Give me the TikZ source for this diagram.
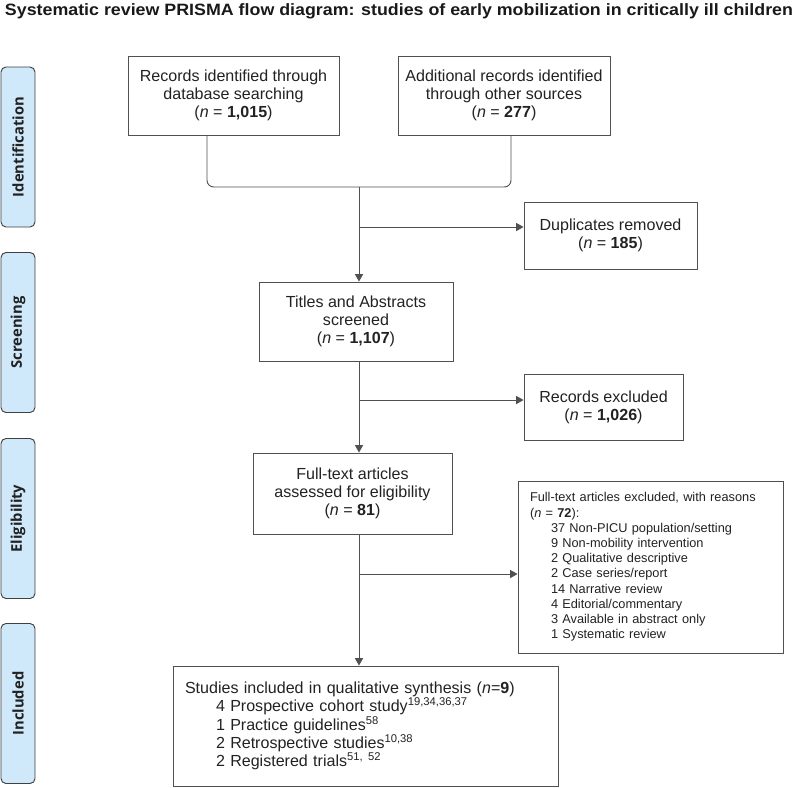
\documentclass[tikz,border=0pt]{standalone}
\usepackage{fontspec}
\setmainfont{Liberation Sans}
\newfontfamily\sidefont{Open Sans}
\usepackage{graphicx}
\usepackage{xcolor}
\usetikzlibrary{arrows.meta, positioning}
\definecolor{txtgray}{HTML}{222222}
\definecolor{linegray}{HTML}{505050}
\definecolor{stagefill}{HTML}{CFE8FA}

\begin{document}
\begin{tikzpicture}[
    x=0.3mm, y=-0.3mm,
    box/.style={draw=linegray, line width=0.8pt, align=center, text=txtgray, inner sep=0pt, font=\fontsize{13.7}{15.5}\selectfont},
    listbox/.style={draw=linegray, line width=0.8pt, align=left, text=txtgray, inner xsep=3.6mm, inner ysep=0pt},
    stage/.style={draw=black!75, line width=0.8pt, fill=stagefill, rounded corners=1.5mm, rotate=90, minimum width=48mm, minimum height=10.2mm, font=\sidefont\bfseries\fontsize{12.6}{14}\selectfont, text=txtgray},
    arrow/.style={-{Triangle[length=2.2mm, width=2.4mm]}, draw=linegray, line width=0.8pt},
    link/.style={draw=linegray, line width=0.8pt},
]
\useasboundingbox (0,0) rectangle (800,787);

% Title
\node[font=\bfseries\fontsize{14}{17}\selectfont, text=black!90] (title) at (399,11.5)
    {\resizebox{236.4mm}{\height}{Systematic review PRISMA flow diagram: studies of early mobilization in critically ill children}};

% Stages
\node[stage] (ident) at (18,147) {Identification};
\node[stage] (scr) at (18,332.5) {Screening};
\node[stage] (elig) at (18,518.5) {Eligibility};
\node[stage] (incd) at (18,703.5) {Included};

% Flow boxes
\node[box, minimum width=63.3mm, minimum height=23.7mm] (db) at (233.5,95.5)
    {Records identified through\\database searching\\(\textit{n} = \textbf{1,015})};
\node[box, minimum width=63.6mm, minimum height=23.7mm] (other) at (504,95.5)
    {Additional records identified\\through other sources\\(\textit{n} = \textbf{277})};
\node[box, minimum width=51.9mm, minimum height=20.1mm] (dup) at (610.5,235.5)
    {Duplicates removed\\(\textit{n} = \textbf{185})};
\node[box, minimum width=58.2mm, minimum height=23.7mm] (screen) at (356,321.5)
    {Titles and Abstracts\\screened\\(\textit{n} = \textbf{1,107})};
\node[box, minimum width=47.7mm, minimum height=19.8mm] (recex) at (603.5,407)
    {Records excluded\\(\textit{n} = \textbf{1,026})};
\node[box, minimum width=59.7mm, minimum height=24.3mm] (full) at (352.5,493.5)
    {Full-text articles\\assessed for eligibility\\(\textit{n} = \textbf{81})};
\node[listbox, text width=72.3mm, minimum height=51.6mm, font=\fontsize{10.9}{13}\selectfont] (ftex) at (650.5,567)
    {Full-text articles excluded, with reasons\\
     (\textit{n} = \textbf{72}):\\
     \hspace*{6.3mm}37 Non-PICU population/setting\\
     \hspace*{6.3mm}9 Non-mobility intervention\\
     \hspace*{6.3mm}2 Qualitative descriptive\\
     \hspace*{6.3mm}2 Case series/report\\
     \hspace*{6.3mm}14 Narrative review\\
     \hspace*{6.3mm}4 Editorial/commentary\\
     \hspace*{6.3mm}3 Available in abstract only\\
     \hspace*{6.3mm}1 Systematic review};
\node[listbox, text width=108.3mm, minimum height=36mm, font=\fontsize{13.7}{15.6}\selectfont] (incl) at (365.5,726)
    {Studies included in qualitative synthesis (\textit{n}=\textbf{9})\\
     \hspace*{9.3mm}4 Prospective cohort study\textsuperscript{19,34,36,37}\\
     \hspace*{9.3mm}1 Practice guidelines\textsuperscript{58}\\
     \hspace*{9.3mm}2 Retrospective studies\textsuperscript{10,38}\\
     \hspace*{9.3mm}2 Registered trials\textsuperscript{51, 52}};

% Connectors
\coordinate (jn) at (359,187);
\coordinate (b1) at ([yshift=2.55mm]dup.west);
\coordinate (b2) at ([yshift=2.1mm]recex.west);
\coordinate (b3) at ([yshift=-2.1mm]ftex.west);
\draw[link, rounded corners=2mm] ([xshift=-7.95mm]db.south) |- (jn) -| ([xshift=2.1mm]other.south);
\draw[arrow] (jn) -- (jn |- screen.north);
\draw[arrow] (jn |- b1) -- (b1);
\draw[arrow] (jn |- screen.south) -- (jn |- full.north);
\draw[arrow] (jn |- b2) -- (b2);
\draw[arrow] (jn |- full.south) -- (jn |- incl.north);
\draw[arrow] (jn |- b3) -- (b3);

\end{tikzpicture}
\end{document}
